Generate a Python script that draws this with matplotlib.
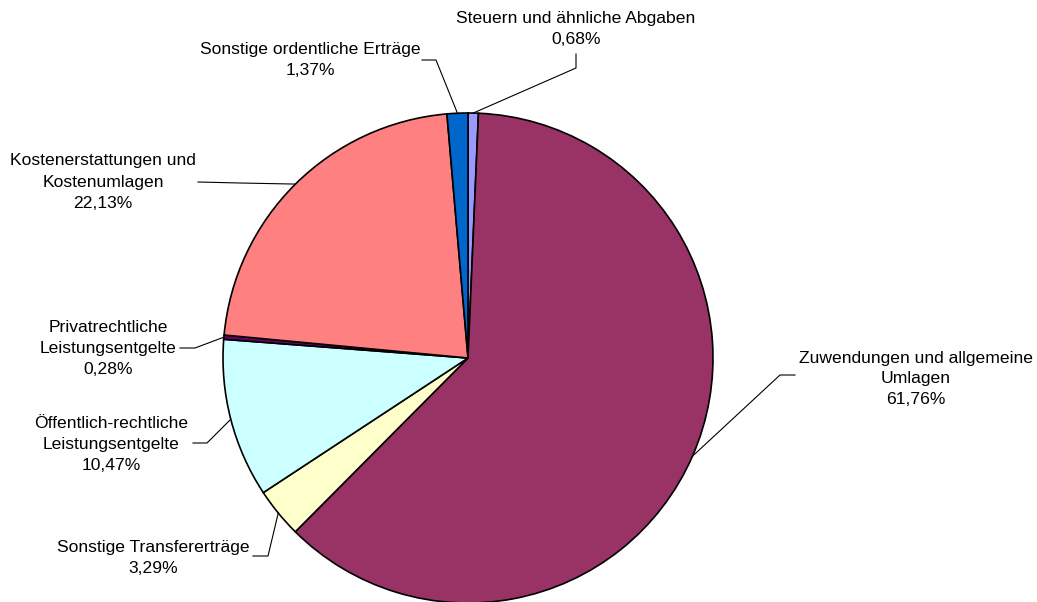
import numpy as np
import matplotlib
matplotlib.use("Agg")
import matplotlib.pyplot as plt

plt.rcParams['font.family'] = ['Liberation Sans', 'DejaVu Sans']

# slices clockwise from 12 o'clock
labels = ["Steuern und ähnliche Abgaben",
          "Zuwendungen und allgemeine\nUmlagen",
          "Sonstige Transfererträge",
          "Öffentlich-rechtliche\nLeistungsentgelte",
          "Privatrechtliche\nLeistungsentgelte",
          "Kostenerstattungen und\nKostenumlagen",
          "Sonstige ordentliche Erträge"]
shares = [0.68, 61.76, 3.29, 10.47, 0.28, 22.13, 1.37]
colors = ["#9999FF", "#993366", "#FFFFCC", "#CCFFFF", "#660066", "#FF8080", "#0066CC"]

W, H = 1037, 602
fig = plt.figure(figsize=(W / 100, H / 100), dpi=100)
ax = fig.add_axes([0, 0, 1, 1])
cx, cy, r = 468, H - 358, 245

wedges, _ = ax.pie(shares, colors=colors, startangle=90, counterclock=False,
                   center=(cx, cy), radius=r,
                   wedgeprops=dict(edgecolor="black", linewidth=1.2))
ax.set_xlim(0, W)
ax.set_ylim(0, H)
ax.set_aspect("equal")
ax.axis("off")

# text position (center), elbow point, line end near text (pixels, y down)
label_pos = [
    ((576, 29), (576, 68), (576, 54)),
    ((916, 379), (780, 375), (795, 375)),
    ((153, 558), (268, 556), (253, 556)),
    ((111, 444), (207, 443), (193, 443)),
    ((108, 348), (195, 348), (180, 348)),
    ((103, 182), (240, 183), (198, 182)),
    ((310, 60), (436, 60), (422, 60)),
]

for w, lab, val, (tp, ep, lp) in zip(wedges, labels, shares, label_pos):
    ang = np.deg2rad((w.theta1 + w.theta2) / 2)
    ax_pt = (cx + r * np.cos(ang), cy + r * np.sin(ang))
    ax.plot([ax_pt[0], ep[0], lp[0]], [ax_pt[1], H - ep[1], H - lp[1]],
            color="black", linewidth=0.8)
    txt = f"{lab}\n{val:.2f}%".replace(".", ",")
    ax.text(tp[0], H - tp[1], txt, ha="center", va="center",
            fontsize=12.6, linespacing=1.5)

fig.savefig("out.png", dpi=100)
